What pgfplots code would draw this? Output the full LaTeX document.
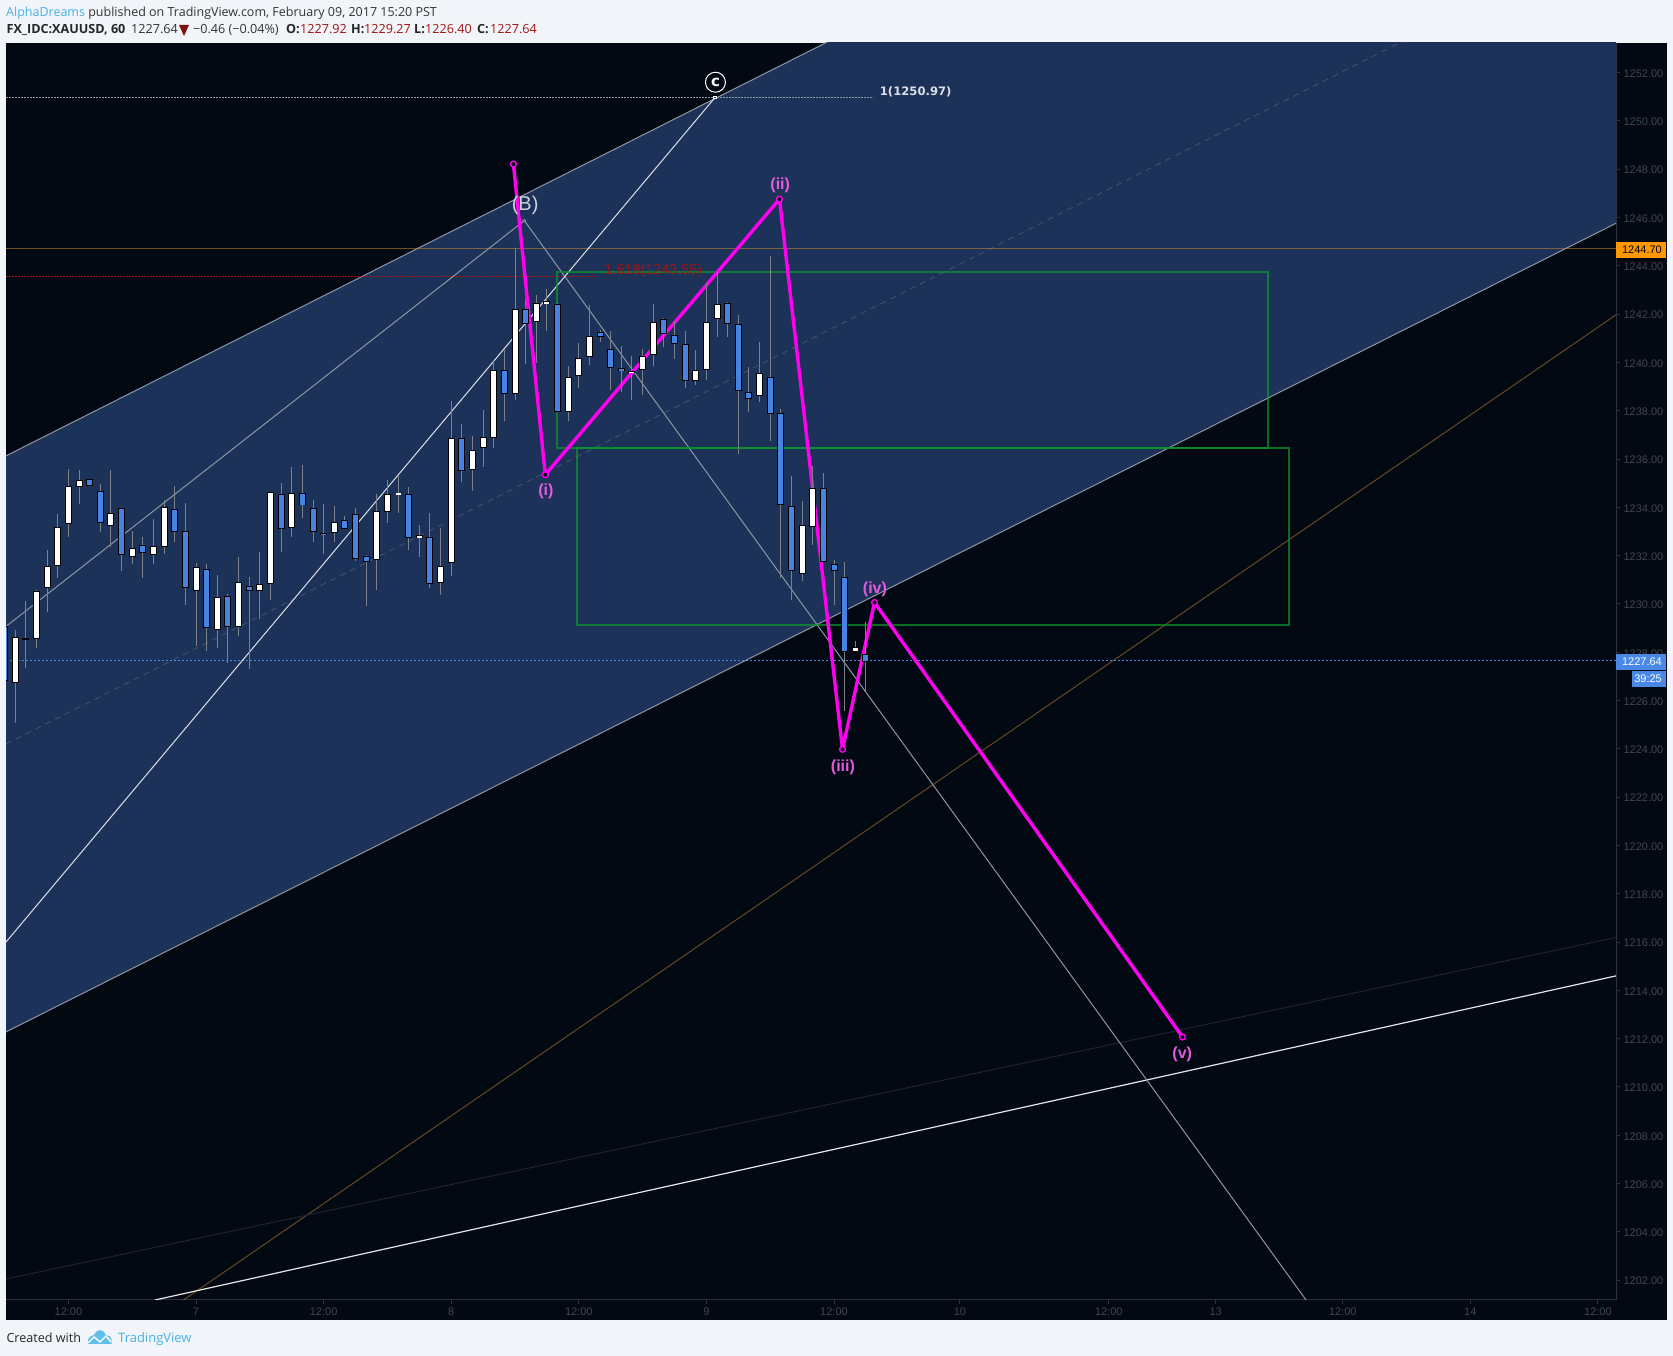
\documentclass[border=0pt]{standalone}
\usepackage{fontspec}
\usepackage{pgfplots}
\usepackage{pgfplotstable}
\pgfplotsset{compat=1.18}
\setmainfont{Open Sans}
\newfontfamily\arial{Liberation Sans}
\newfontfamily\dvb{DejaVu Sans}
\definecolor{page}{HTML}{F1F4F8}
\definecolor{dark}{HTML}{020913}
\definecolor{chan}{HTML}{1D3259}
\definecolor{edge}{HTML}{8E96A4}
\definecolor{axgray}{HTML}{2C323C}
\definecolor{faint}{HTML}{1E2530}
\definecolor{ticktxt}{HTML}{41464E}
\definecolor{candleblue}{HTML}{4683E4}
\definecolor{wick}{HTML}{7C8088}
\definecolor{magent}{HTML}{FF00F0}
\definecolor{wavelab}{HTML}{E65AE0}
\definecolor{tvblue}{HTML}{45B3E8}
\definecolor{hdrred}{HTML}{A01414}
\definecolor{tagblue}{HTML}{4A88E8}
\definecolor{tagorange}{HTML}{FF9800}
\definecolor{ambre}{HTML}{C88A30}
\definecolor{rectgreen}{HTML}{0B9A2A}
% i high top bottom low, prices; bars counted from the first whole candle
\pgfplotstableread{
i hi top bot lo
-1 1229.09 1229.09 1226.79 1226.79
7 1235.19 1235.19 1234.90 1234.90
8 1234.97 1234.67 1233.35 1233.00
10 1233.97 1233.97 1232.06 1231.37
12 1232.78 1232.46 1232.10 1231.09
15 1234.89 1233.93 1232.97 1232.56
16 1234.18 1233.01 1230.66 1229.98
18 1231.66 1231.44 1229.00 1228.07
20 1230.42 1230.35 1229.08 1227.58
22 1231.12 1230.77 1230.53 1227.30
25 1235.01 1234.58 1233.10 1232.16
27 1235.76 1234.61 1234.08 1233.57
28 1234.31 1233.96 1232.97 1232.57
29 1234.14 1232.96 1232.85 1232.09
31 1233.64 1233.46 1233.10 1233.10
32 1233.98 1233.75 1231.85 1231.80
33 1232.02 1232.00 1231.77 1229.90
37 1234.83 1234.57 1232.72 1232.25
39 1233.78 1232.79 1230.82 1230.68
42 1237.48 1236.89 1235.50 1235.05
46 1240.51 1239.68 1238.71 1237.59
48 1242.63 1242.23 1241.58 1239.94
51 1242.45 1242.44 1237.96 1237.96
55 1241.34 1241.25 1241.07 1240.86
56 1241.29 1240.57 1239.75 1238.86
57 1240.68 1239.75 1239.62 1238.77
61 1241.83 1241.79 1241.19 1240.65
62 1241.72 1241.15 1240.78 1240.14
63 1241.33 1240.78 1239.26 1238.95
67 1242.52 1242.48 1241.58 1241.07
68 1241.97 1241.57 1238.81 1236.22
69 1239.80 1238.77 1238.52 1237.96
71 1244.41 1239.42 1237.85 1236.76
72 1238.06 1237.92 1234.08 1231.09
73 1235.30 1234.08 1231.35 1230.17
76 1235.41 1234.79 1231.73 1231.73
77 1231.82 1231.64 1231.35 1229.97
78 1231.73 1231.15 1228.04 1225.57
80 1229.27 1227.92 1227.60 1226.40
}\downbars
\pgfplotstableread{
i hi top bot lo
0 1228.93 1228.66 1226.72 1225.09
2 1230.56 1230.56 1228.54 1228.18
3 1232.24 1231.59 1230.66 1229.69
4 1233.72 1233.17 1231.56 1231.09
5 1235.62 1234.90 1233.31 1232.79
6 1235.55 1235.16 1234.87 1234.14
9 1235.55 1233.79 1233.22 1232.35
11 1233.03 1232.34 1231.93 1231.67
13 1233.51 1232.39 1232.02 1231.67
14 1234.33 1234.03 1232.35 1232.09
17 1231.73 1231.51 1230.53 1228.26
19 1231.20 1230.31 1228.91 1228.19
21 1231.95 1230.89 1229.04 1228.68
23 1232.14 1230.81 1230.53 1229.40
24 1234.65 1234.65 1230.82 1230.17
26 1235.68 1234.61 1233.14 1232.78
30 1234.06 1233.42 1232.97 1232.57
34 1234.55 1233.83 1231.81 1230.60
35 1235.14 1234.57 1233.84 1233.36
38 1233.26 1232.88 1232.72 1231.96
40 1233.14 1231.59 1230.86 1230.39
41 1238.41 1236.85 1231.69 1231.16
43 1236.96 1236.40 1235.54 1234.69
44 1238.03 1236.91 1236.45 1235.69
45 1240.07 1239.72 1236.87 1236.48
47 1244.68 1242.23 1238.68 1238.45
49 1242.80 1242.48 1241.66 1239.97
50 1243.02 1242.54 1242.44 1241.30
52 1239.86 1239.42 1237.96 1237.59
53 1240.79 1240.20 1239.47 1238.95
54 1242.38 1241.11 1240.24 1239.90
58 1240.26 1239.64 1239.55 1238.45
59 1240.54 1240.28 1239.68 1238.65
60 1242.42 1241.69 1240.33 1239.87
64 1240.51 1239.71 1239.26 1239.07
65 1243.31 1241.69 1239.72 1239.28
66 1243.76 1242.41 1241.79 1241.07
70 1240.85 1239.58 1238.60 1238.38
74 1234.29 1233.25 1231.23 1230.97
75 1235.72 1234.79 1233.18 1232.45
79 1228.47 1228.21 1228.00 1228.00
}\upbars
\pgfplotstableread{
i hi top bot lo
1 1230.13 1228.59 1228.52 1227.37
}\dojibars
\pgfplotstableread{
i hi top bot lo
36 1235.34 1234.62 1234.53 1233.78
}\dashbars
\newcommand{\wicks}[1]{\addplot[forget plot,draw=none,mark=none,error bars/.cd,y dir=both,y explicit,error mark=none,error bar style={draw=wick,line width=1pt}] table[x=i,y expr=(\thisrow{hi}+\thisrow{lo})/2,y error expr=(\thisrow{hi}-\thisrow{lo})/2] {#1};}
\newcommand{\bodyout}[1]{\addplot[forget plot,draw=none,mark=none,error bars/.cd,y dir=both,y explicit,error mark=none,error bar style={draw=black,line width=7pt}] table[x=i,y expr=(\thisrow{top}+\thisrow{bot})/2,y error expr=(\thisrow{top}-\thisrow{bot})/2] {#1};}
\newcommand{\bodyin}[2]{\addplot[forget plot,draw=none,mark=none,error bars/.cd,y dir=both,y explicit,error mark=none,error bar style={draw=#2,line width=5pt}] table[x=i,y expr=(\thisrow{top}+\thisrow{bot})/2,y error expr=(\thisrow{top}-\thisrow{bot})/2-0.0414] {#1};}
\begin{document}
\begin{tikzpicture}[x=1pt,y=1pt]
\useasboundingbox (0,0) rectangle (1673,1356);
\fill[page] (0,0) rectangle (1673,1356);
\fill[dark] (6,36) rectangle (1666.5,1313);
\begin{axis}[
  at={(6pt,56pt)},anchor=south west,scale only axis,width=1610pt,height=1257pt,
  xmin=-0.875,xmax=150.55,ymin=1201.18,ymax=1253.23,
  axis x line=bottom,axis y line=right,
  axis line style={draw=axgray,line width=1pt,-},
  tick style={draw=axgray,line width=1pt},
  tick align=outside,major tick length=4pt,
  xtick={5,17,29,41,53,65,77,88.85,102.85,112.9,124.85,136.85,148.85},
  xticklabels={12:00,7,12:00,8,12:00,9,12:00,10,12:00,13,12:00,14,12:00},
  ytick={1202,1204,...,1252},
  /pgf/number format/assume math mode=true,
  /pgf/number format/fixed,/pgf/number format/fixed zerofill,/pgf/number format/precision=2,/pgf/number format/1000 sep={},
  yticklabel style={font=\arial\fontsize{11}{13}\selectfont,text=ticktxt,yshift=-1pt},
  xticklabel style={font=\arial\fontsize{11}{13}\selectfont,text=ticktxt},
  clip=true,
]
% ascending channel
\addplot[forget plot,fill=chan,draw=none] coordinates {(-0.875,1212.28)(150.55,1245.76)(150.55,1269.72)(-0.875,1236.13)} -- cycle;
\addplot[forget plot,edge,line width=1pt] coordinates {(-0.875,1236.13)(150.55,1269.72)};
\addplot[forget plot,edge,line width=1pt] coordinates {(-0.875,1212.28)(150.55,1245.76)};
\addplot[forget plot,color=edge,opacity=0.3,line width=1pt,dash pattern=on 6pt off 5pt] coordinates {(-0.875,1224.2)(150.55,1257.74)};
% horizontal levels
\addplot[forget plot,ambre,opacity=0.55,line width=1pt] coordinates {(-0.875,1244.70)(150.55,1244.70)};
\addplot[forget plot,color=hdrred,line width=1pt,dash pattern=on 1.5pt off 1.5pt] coordinates {(-0.875,1243.55)(54.7,1243.55)};
\addplot[forget plot,color=edge,line width=1pt,dash pattern=on 1.5pt off 1.5pt] coordinates {(-0.875,1250.97)(80.67,1250.97)};
\addplot[forget plot,color=tagblue,line width=1pt,dash pattern=on 2pt off 2pt] coordinates {(-0.875,1227.64)(150.55,1227.64)};
% long lines
\addplot[forget plot,ambre,opacity=0.5,line width=1pt] coordinates {(15.82,1201.18)(150.55,1241.97)};
\addplot[forget plot,color=faint,line width=1pt] coordinates {(-0.875,1202.05)(150.55,1216.19)};
\addplot[forget plot,color=white,opacity=0.9,line width=1.2pt] coordinates {(13.14,1201.18)(150.55,1214.60)};
\addplot[forget plot,color=edge,line width=1pt] coordinates {(-0.81,1229.09)(47.88,1245.87)(121.4,1201.18)};
\addplot[forget plot,color=white,opacity=0.85,line width=1pt] coordinates {(-0.875,1216.0)(65.82,1250.97)};
\addplot[forget plot,only marks,mark=*,mark size=1.4pt,mark options={fill=chan,draw=edge,line width=0.8pt}] coordinates {(47.88,1245.87)};
\addplot[forget plot,only marks,mark=square*,mark size=1.4pt,mark options={fill=chan,draw=white,line width=0.8pt}] coordinates {(65.82,1250.97)};
% boxes
\addplot[forget plot,draw=rectgreen,opacity=0.7,line width=2pt] coordinates {(50.96,1243.73)(117.8,1243.73)(117.8,1236.44)(50.96,1236.44)} -- cycle;
\addplot[forget plot,draw=rectgreen,opacity=0.7,line width=2pt] coordinates {(52.84,1236.44)(119.8,1236.44)(119.8,1229.12)(52.84,1229.12)} -- cycle;
% wave count
\addplot[forget plot,color=magent,line width=3.4pt,line join=round,mark=*,mark size=2.9pt,mark options={fill=dark,draw=magent,line width=1.4pt}] coordinates {(46.85,1248.21)(49.85,1235.35)(71.87,1246.76)(77.80,1223.98)(80.81,1230.06)(109.78,1212.07)};
% candles
\wicks{\downbars}
\wicks{\upbars}
\wicks{\dojibars}
\wicks{\dashbars}
\bodyout{\downbars}
\bodyout{\upbars}
\bodyout{\dojibars}
\bodyin{\downbars}{candleblue}
\bodyin{\upbars}{white}
\bodyin{\dashbars}{white}
% labels
\node[text=white!78!chan,font=\arial\fontsize{20}{23}\selectfont] at (axis cs:47.95,1246.49) {(B)};
\node[text=wavelab,font=\arial\bfseries\fontsize{16}{18}\selectfont] at (axis cs:49.9,1234.65) {(i)};
\node[text=wavelab,font=\arial\bfseries\fontsize{16}{18}\selectfont] at (axis cs:71.94,1247.31) {(ii)};
\node[text=wavelab,font=\arial\bfseries\fontsize{16}{18}\selectfont] at (axis cs:77.84,1223.24) {(iii)};
\node[text=wavelab,font=\arial\bfseries\fontsize{16}{18}\selectfont] at (axis cs:80.85,1230.61) {(iv)};
\node[text=wavelab,font=\arial\bfseries\fontsize{16}{18}\selectfont] at (axis cs:109.75,1211.37) {(v)};
\node[anchor=west,inner sep=0pt,text=hdrred,font=\arial\fontsize{14.4}{16}\selectfont] at (axis cs:55.4,1243.80) {1.618(1243.55)};
\node[anchor=west,inner sep=0pt,text=white!85!chan,font=\dvb\bfseries\fontsize{11.6}{13}\selectfont] at (axis cs:81.3,1251.21) {1(1250.97)};
\node[circle,draw=white,line width=1pt,minimum size=20pt,inner sep=0pt,text=white,font=\dvb\bfseries\fontsize{15}{16}\selectfont] at (axis cs:65.85,1251.6) {c};
\end{axis}
% price tags
\fill[tagorange] (1616,1356-258) rectangle (1666,1356-242);
\node[anchor=east,inner sep=0pt,text=black,font=\arial\fontsize{11}{13}\selectfont] at (1662,1356-250) {1244.70};
\fill[tagblue] (1616,1356-670) rectangle (1666,1356-654);
\node[anchor=east,inner sep=0pt,text=white,font=\arial\fontsize{11}{13}\selectfont] at (1662,1356-662) {1227.64};
\fill[tagblue] (1632,1356-687) rectangle (1666,1356-671);
\node[anchor=east,inner sep=0pt,text=white,font=\arial\fontsize{11}{13}\selectfont] at (1662,1356-679) {39:25};
% header
\node[anchor=base west,inner sep=0pt,font=\fontsize{12.5}{15}\selectfont] at (6,1356-16.5) {\textcolor{tvblue}{AlphaDreams}\ \textcolor{black!80}{published on TradingView.com, February 09, 2017 15:20 PST}};
\begin{scope}[every node/.style={anchor=base west,inner sep=0pt,font=\fontsize{12.6}{15}\selectfont}]
\node at (6.4,1356-34) {\bfseries\textcolor{black!85}{FX\_IDC:XAUUSD, 60}};
\node at (131,1356-34) {\textcolor{black!80}{1227.64}};
\fill[hdrred!80!black] (179,1356-25) -- (189,1356-25) -- (184,1356-36) -- cycle;
\node at (193,1356-34) {\textcolor{black!80}{−0.46 (−0.04\%)}};
\node at (286,1356-34) {\bfseries\textcolor{black!85}{O:}};
\node at (300,1356-34) {\textcolor{hdrred}{1227.92}};
\node at (351,1356-34) {\bfseries\textcolor{black!85}{H:}};
\node at (364,1356-34) {\textcolor{hdrred}{1229.27}};
\node at (414,1356-34) {\bfseries\textcolor{black!85}{L:}};
\node at (425,1356-34) {\textcolor{hdrred}{1226.40}};
\node at (477,1356-34) {\bfseries\textcolor{black!85}{C:}};
\node at (490,1356-34) {\textcolor{hdrred}{1227.64}};
\end{scope}
% footer
\node[anchor=base west,inner sep=0pt,font=\fontsize{12.6}{15}\selectfont,text=black!85] at (6.3,1356-1343) {Created with};
\fill[tvblue!85!white] (88,1356-1344) -- (88,1356-1340) to[out=90,in=200] (94,1356-1335) to[out=60,in=180] (100,1356-1330) to[out=0,in=120] (106,1356-1335) to[out=0,in=90] (111.7,1356-1340) -- (111.7,1356-1344) -- cycle;
\draw[white,line width=1.4pt] (88,1356-1343) -- (94,1356-1337) -- (100,1356-1342) -- (106,1356-1336) -- (111,1356-1342);
\node[anchor=base west,inner sep=0pt,font=\fontsize{13}{15}\selectfont,text=tvblue] at (118,1356-1343) {TradingView};
\end{tikzpicture}
\end{document}
